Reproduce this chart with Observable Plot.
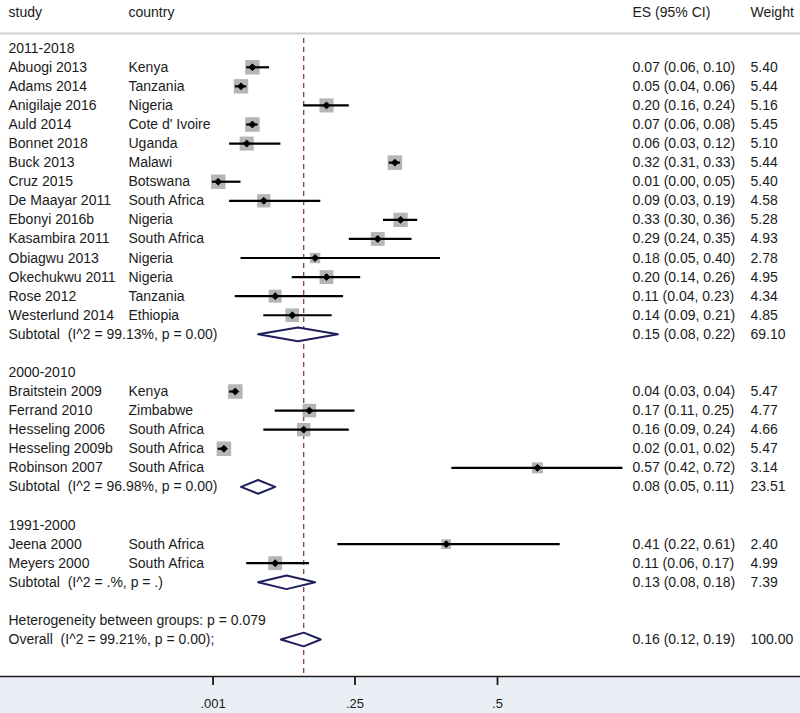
<!DOCTYPE html>
<html>
<head>
<meta charset="utf-8">
<script src="https://cdn.jsdelivr.net/npm/d3@7"></script>
<script src="https://cdn.jsdelivr.net/npm/@observablehq/plot@0.6"></script>
<style>
  body { margin: 0; background: #fff; }
  svg text { white-space: pre; }
</style>
</head>
<body>
<div id="chart"></div>
<script>
// ---- Data ----
const groupNames = ["2011-2018", "2000-2010", "1991-2000"];

const studyNames = [
  "Abuogi 2013", "Adams 2014", "Anigilaje 2016", "Auld 2014", "Bonnet 2018", "Buck 2013",
  "Cruz 2015", "De Maayar 2011", "Ebonyi 2016b", "Kasambira 2011", "Obiagwu 2013",
  "Okechukwu 2011", "Rose 2012", "Westerlund 2014",
  "Braitstein 2009", "Ferrand 2010", "Hesseling 2006", "Hesseling 2009b", "Robinson 2007",
  "Jeena 2000", "Meyers 2000"
];
const studyCountries = [
  "Kenya", "Tanzania", "Nigeria", "Cote d' Ivoire", "Uganda", "Malawi",
  "Botswana", "South Africa", "Nigeria", "South Africa", "Nigeria",
  "Nigeria", "Tanzania", "Ethiopia",
  "Kenya", "Zimbabwe", "South Africa", "South Africa", "South Africa",
  "South Africa", "South Africa"
];
const studyGroup = [0,0,0,0,0,0,0,0,0,0,0,0,0,0, 1,1,1,1,1, 2,2];
const studyES = [0.07, 0.05, 0.20, 0.07, 0.06, 0.32, 0.01, 0.09, 0.33, 0.29, 0.18, 0.20, 0.11, 0.14,
                 0.04, 0.17, 0.16, 0.02, 0.57, 0.41, 0.11];
const studyLo = [0.06, 0.04, 0.16, 0.06, 0.03, 0.31, 0.00, 0.03, 0.30, 0.24, 0.05, 0.14, 0.04, 0.09,
                 0.03, 0.11, 0.09, 0.01, 0.42, 0.22, 0.06];
const studyHi = [0.10, 0.06, 0.24, 0.08, 0.12, 0.33, 0.05, 0.19, 0.36, 0.35, 0.40, 0.26, 0.23, 0.21,
                 0.04, 0.25, 0.24, 0.02, 0.72, 0.61, 0.17];
const studyWeight = [5.40, 5.44, 5.16, 5.45, 5.10, 5.44, 5.40, 4.58, 5.28, 4.93, 2.78, 4.95, 4.34, 4.85,
                     5.47, 4.77, 4.66, 5.47, 3.14, 2.40, 4.99];

const subtotalLabels = [
  "Subtotal  (I^2 = 99.13%, p = 0.00)",
  "Subtotal  (I^2 = 96.98%, p = 0.00)",
  "Subtotal  (I^2 = .%, p = .)"
];
const subtotalES = [0.15, 0.08, 0.13];
const subtotalLo = [0.08, 0.05, 0.08];
const subtotalHi = [0.22, 0.11, 0.18];
const subtotalWeight = [69.10, 23.51, 7.39];

const heterogeneityLabel = "Heterogeneity between groups: p = 0.079";
const overallLabel = "Overall  (I^2 = 99.21%, p = 0.00);";
const overallES = 0.16, overallLo = 0.12, overallHi = 0.19, overallWeight = 100.00;

const headerLabels = ["study", "country", "ES (95% CI)", "Weight"];
const axisTickValues = [0.001, 0.25, 0.5];
const axisTickLabels = [".001", ".25", ".5"];

// ---- Build rows ----
const fmtCI = (e, l, h) => `${e.toFixed(2)} (${l.toFixed(2)}, ${h.toFixed(2)})`;
const rows = [];
let idx = 0;
groupNames.forEach((g, gi) => {
  rows.push({idx: idx++, kind: "group", label: g});
  studyNames.forEach((s, si) => {
    if (studyGroup[si] !== gi) return;
    rows.push({idx: idx++, kind: "study", label: s, country: studyCountries[si],
      es: studyES[si], lo: studyLo[si], hi: studyHi[si], w: studyWeight[si],
      ci: fmtCI(studyES[si], studyLo[si], studyHi[si]), wt: studyWeight[si].toFixed(2)});
  });
  rows.push({idx: idx++, kind: "summary", label: subtotalLabels[gi],
    es: subtotalES[gi], lo: subtotalLo[gi], hi: subtotalHi[gi],
    ci: fmtCI(subtotalES[gi], subtotalLo[gi], subtotalHi[gi]), wt: subtotalWeight[gi].toFixed(2)});
  idx++; // blank spacer row
});
rows.push({idx: idx++, kind: "note", label: heterogeneityLabel});
rows.push({idx: idx++, kind: "summary", label: overallLabel, es: overallES, lo: overallLo, hi: overallHi,
  ci: fmtCI(overallES, overallLo, overallHi), wt: overallWeight.toFixed(2)});
const nRows = idx;

const studyRows = rows.filter(d => d.kind === "study");
const summaryRows = rows.filter(d => d.kind === "summary");
const ciRows = rows.filter(d => d.ci);

// diamond vertices (half-height in row units)
const hh = 0.36;
const diamonds = summaryRows.flatMap((d, k) => [
  {k, x: d.lo, y: d.idx},
  {k, x: d.es, y: d.idx - hh},
  {k, x: d.hi, y: d.idx},
  {k, x: d.es, y: d.idx + hh}
]);

const textColor = "#1b1b1b";

const chart = Plot.plot({
  width: 800,
  height: 713,
  marginTop: 33,
  marginBottom: 37,
  marginLeft: 0,
  marginRight: 0,
  x: {domain: [0, 1], range: [212, 782], axis: null},
  y: {domain: [0, nRows - 1], range: [47.7, 639], axis: null},
  r: {type: "sqrt", domain: [0, 5.47], range: [0, 8.2]},
  style: {
    fontFamily: "'Liberation Sans', Arial, sans-serif",
    fontSize: "14px",
    color: textColor,
    background: "linear-gradient(to bottom, #ffffff 0px, #ffffff 677px, #e9eff4 677px, #e9eff4 713px)"
  },
  marks: [
    // header separator and axis line
    Plot.frame({anchor: "top", stroke: "#cfcfcf", strokeWidth: 2}),
    Plot.frame({anchor: "bottom", stroke: "#1a1a1a", strokeWidth: 1.5}),
    // null line at overall ES
    Plot.ruleX([overallES], {stroke: "#8a4040", strokeWidth: 1.3, strokeDasharray: "5,4", insetTop: 5}),
    // weight squares
    Plot.dot(studyRows, {x: "es", y: "idx", r: "w", symbol: "square", fill: "#b5b5b5", stroke: "none"}),
    // CI lines
    Plot.ruleY(studyRows, {y: "idx", x1: "lo", x2: "hi", stroke: "#000", strokeWidth: 2.2}),
    // point estimate
    Plot.dot(studyRows, {x: "es", y: "idx", r: 3.1, symbol: "diamond2", fill: "#000", stroke: "#000", strokeWidth: 1}),
    // summary diamonds
    Plot.line(diamonds, {x: "x", y: "y", z: "k", curve: "linear-closed", fill: "#fff",
      stroke: "#1f1f5e", strokeWidth: 2}),
    // left labels
    Plot.text(rows, {y: "idx", text: "label", frameAnchor: "left", dx: 8, textAnchor: "start", fill: textColor}),
    Plot.text(studyRows, {y: "idx", text: "country", frameAnchor: "left", dx: 128, textAnchor: "start", fill: textColor}),
    // right columns
    Plot.text(ciRows, {y: "idx", text: "ci", frameAnchor: "left", dx: 632, textAnchor: "start", fill: textColor}),
    Plot.text(ciRows, {y: "idx", text: "wt", frameAnchor: "left", dx: 750, textAnchor: "start", fill: textColor}),
    // headers
    Plot.text([headerLabels[0]], {text: d => d, frameAnchor: "top-left", dx: 8, dy: -21, lineAnchor: "middle", textAnchor: "start", fill: textColor}),
    Plot.text([headerLabels[1]], {text: d => d, frameAnchor: "top-left", dx: 128, dy: -21, lineAnchor: "middle", textAnchor: "start", fill: textColor}),
    Plot.text([headerLabels[2]], {text: d => d, frameAnchor: "top-left", dx: 632, dy: -21, lineAnchor: "middle", textAnchor: "start", fill: textColor}),
    Plot.text([headerLabels[3]], {text: d => d, frameAnchor: "top-left", dx: 750, dy: -21, lineAnchor: "middle", textAnchor: "start", fill: textColor}),
    // axis
    Plot.axisX({
      anchor: "bottom",
      ticks: axisTickValues,
      tickFormat: (d) => axisTickLabels[axisTickValues.indexOf(d)],
      tickSize: 9,
      tickPadding: 13,
      strokeWidth: 1.8,
      fontSize: 13,
      label: null,
      fill: textColor,
      stroke: "#1a1a1a"
    })
  ]
});
document.getElementById("chart").appendChild(chart);
</script>
</body>
</html>
